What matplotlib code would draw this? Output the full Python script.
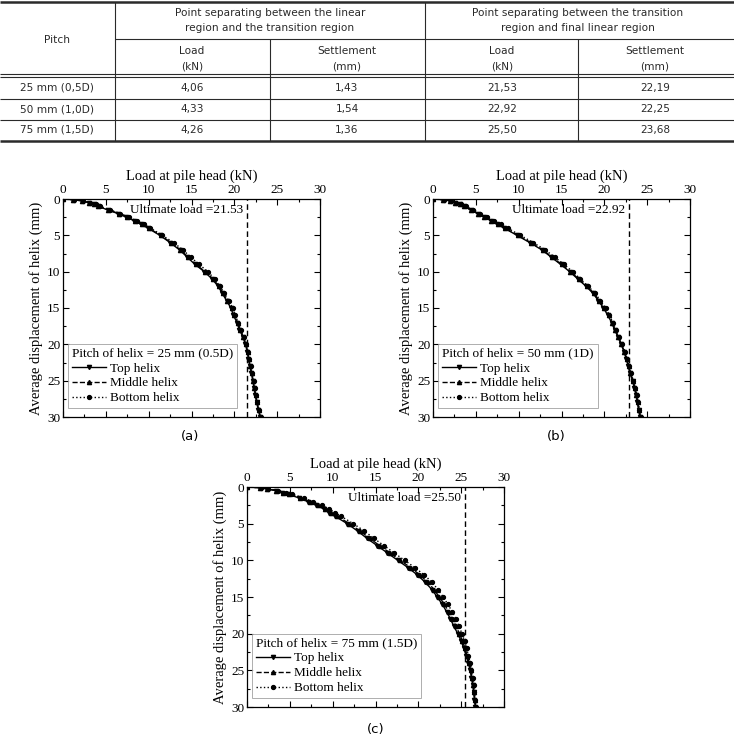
import matplotlib
matplotlib.use('Agg')
import matplotlib.pyplot as plt
from matplotlib.ticker import MultipleLocator

# table data
col_groups = ['Point separating between the linear\nregion and the transition region',
              'Point separating between the transition\nregion and final linear region']
sub_cols = ['Load\n(kN)', 'Settlement\n(mm)', 'Load\n(kN)', 'Settlement\n(mm)']
pitch_rows = ['25 mm (0,5D)', '50 mm (1,0D)', '75 mm (1,5D)']
table_vals = [['4,06', '1,43', '21,53', '22,19'],
              ['4,33', '1,54', '22,92', '22,25'],
              ['4,26', '1,36', '25,50', '23,68']]

# curve data: average displacement (mm) and load (kN) for each helix
disp = [0, 0.1, 0.25, 0.5, 0.75, 1, 1.5, 2, 2.5, 3, 3.5, 4, 5, 6, 7, 8, 9, 10, 11, 12,
        13, 14, 15, 16, 17, 18, 19, 20, 21, 22, 23, 24, 25, 26, 27, 28, 29, 30]

top_a = [0, 1.2, 2.2, 3.0, 3.6, 4.1, 5.2, 6.4, 7.4, 8.3, 9.1, 9.9, 11.3, 12.5, 13.6, 14.5, 15.4, 16.5, 17.4, 18.1,
         18.6, 19.1, 19.6, 19.9, 20.3, 20.6, 21.0, 21.3, 21.5, 21.65, 21.8, 22.0, 22.15, 22.3, 22.45, 22.6, 22.8, 23.0]
mid_a = [0, 1.2, 2.2, 3.0, 3.6, 4.1, 5.3, 6.5, 7.5, 8.4, 9.2, 10.0, 11.4, 12.6, 13.7, 14.6, 15.5, 16.6, 17.5, 18.2,
         18.7, 19.2, 19.7, 20.0, 20.4, 20.7, 21.05, 21.35, 21.55, 21.7, 21.85, 22.05, 22.2, 22.35, 22.5, 22.65, 22.85, 23.05]
bot_a = [0, 1.3, 2.3, 3.1, 3.8, 4.3, 5.5, 6.7, 7.7, 8.6, 9.4, 10.2, 11.6, 12.9, 14.0, 14.9, 15.9, 16.9, 17.7, 18.3,
         18.85, 19.35, 19.8, 20.1, 20.45, 20.75, 21.1, 21.4, 21.6, 21.75, 21.9, 22.1, 22.25, 22.4, 22.55, 22.7, 22.9, 23.1]

top_b = [0, 1.2, 2.0, 2.6, 3.1, 3.6, 4.4, 5.2, 6.0, 6.8, 7.5, 8.3, 9.8, 11.3, 12.7, 13.8, 14.9, 15.95, 16.9, 17.85,
         18.7, 19.3, 19.9, 20.4, 20.85, 21.2, 21.6, 21.95, 22.3, 22.55, 22.8, 23.0, 23.3, 23.5, 23.7, 23.85, 24.0, 24.15]
mid_b = [0, 1.2, 2.0, 2.6, 3.1, 3.6, 4.4, 5.2, 6.0, 6.8, 7.6, 8.4, 9.9, 11.4, 12.8, 13.9, 15.0, 16.05, 17.0, 17.95,
         18.8, 19.4, 20.0, 20.5, 20.9, 21.25, 21.65, 22.0, 22.35, 22.6, 22.85, 23.05, 23.35, 23.55, 23.75, 23.9, 24.05, 24.2]
bot_b = [0, 1.3, 2.1, 2.7, 3.3, 3.8, 4.7, 5.5, 6.3, 7.1, 7.9, 8.7, 10.2, 11.7, 13.1, 14.2, 15.3, 16.3, 17.2, 18.1,
         18.95, 19.55, 20.15, 20.6, 21.0, 21.35, 21.75, 22.1, 22.4, 22.65, 22.9, 23.1, 23.4, 23.6, 23.8, 23.95, 24.1, 24.25]

top_c = [0, 1.5, 2.3, 3.4, 4.1, 4.8, 6.1, 7.1, 8.1, 8.95, 9.6, 10.3, 11.7, 12.9, 14.0, 15.2, 16.4, 17.6, 18.8, 19.9,
         20.8, 21.6, 22.2, 22.8, 23.3, 23.75, 24.15, 24.6, 25.0, 25.3, 25.6, 25.85, 26.05, 26.2, 26.35, 26.45, 26.55, 26.65]
mid_c = [0, 1.5, 2.3, 3.4, 4.2, 4.9, 6.2, 7.3, 8.3, 9.15, 9.85, 10.55, 11.95, 13.2, 14.3, 15.5, 16.7, 17.9, 19.1, 20.2,
         21.1, 21.85, 22.45, 23.05, 23.55, 24.0, 24.4, 24.8, 25.15, 25.45, 25.7, 25.95, 26.1, 26.25, 26.4, 26.5, 26.6, 26.7]
bot_c = [0, 1.6, 2.5, 3.6, 4.5, 5.3, 6.6, 7.7, 8.7, 9.6, 10.3, 11.0, 12.4, 13.7, 14.8, 16.0, 17.2, 18.4, 19.6, 20.7,
         21.6, 22.3, 22.9, 23.45, 23.95, 24.4, 24.75, 25.1, 25.4, 25.65, 25.85, 26.05, 26.2, 26.35, 26.45, 26.55, 26.65, 26.75]

panels = [
    ('(a)', '25 mm (0.5D)', 21.53, top_a, mid_a, bot_a),
    ('(b)', '50 mm (1D)', 22.92, top_b, mid_b, bot_b),
    ('(c)', '75 mm (1.5D)', 25.50, top_c, mid_c, bot_c),
]

W, H = 734, 738
fig = plt.figure(figsize=(W / 100, H / 100), dpi=100)

# ---- table drawn in pixel coordinates ----
tax = fig.add_axes([0, 1 - 145 / H, 1, 145 / H])
tax.set_xlim(0, W)
tax.set_ylim(145, 0)
tax.axis('off')
tcol = '#2a2a2a'
tfont = dict(family='DejaVu Sans', fontsize=7.6, color=tcol, ha='center', va='center', linespacing=1.7)

tax.hlines(1.5, 0, W, color=tcol, lw=1.8)
tax.hlines(39, 115, W, color=tcol, lw=0.8)
tax.hlines([74, 77], 0, W, color=tcol, lw=0.8)
tax.hlines([98.5, 119.5], 0, W, color=tcol, lw=0.8)
tax.hlines(140.5, 0, W, color=tcol, lw=1.8)
tax.vlines([115, 425], 1.5, 140.5, color=tcol, lw=0.8)
tax.vlines([270, 578], 39, 140.5, color=tcol, lw=0.8)

tax.text(57, 40, 'Pitch', **tfont)
tax.text(270, 20.5, col_groups[0], **tfont)
tax.text(578, 20.5, col_groups[1], **tfont)
for cx, s in zip([192, 347, 502, 655], sub_cols):
    tax.text(cx, 58.5, s, **tfont)
for ry, name, vals in zip([88, 109, 130], pitch_rows, table_vals):
    tax.text(57, ry, name, **tfont)
    for cx, v in zip([192, 347, 502, 655], vals):
        tax.text(cx, ry, v, **tfont)

# ---- load-settlement charts ----
serif = 'Liberation Serif'
boxes = [(63, 199, 257, 218), (433, 199, 257, 218), (247, 487, 257, 220)]
tags = [(190, 437), (556, 437), (376, 729)]

for (tag, pitch, ult, top, mid, bot), (x0, y0, w, h), (tx, ty) in zip(panels, boxes, tags):
    ax = fig.add_axes([x0 / W, 1 - (y0 + h) / H, w / W, h / H])
    ax.plot(top, disp, '-', color='black', lw=1.0, marker='v', ms=3, label='Top helix')
    ax.plot(mid, disp, '--', color='black', lw=1.0, marker='^', ms=3, label='Middle helix')
    ax.plot(bot, disp, ':', color='black', lw=1.0, marker='o', ms=2.8, label='Bottom helix')
    ax.axvline(ult, color='black', ls=(0, (4, 2.5)), lw=1.0)
    ax.text(ult - 0.5, 1.45, f'Ultimate load ={ult:.2f}', ha='right', va='center',
            family=serif, fontsize=9.5)

    ax.set_xlim(0, 30)
    ax.set_ylim(30, 0)
    ax.xaxis.set_major_locator(MultipleLocator(5))
    ax.xaxis.set_minor_locator(MultipleLocator(2.5))
    ax.yaxis.set_major_locator(MultipleLocator(5))
    ax.yaxis.set_minor_locator(MultipleLocator(2.5))
    ax.xaxis.tick_top()
    ax.xaxis.set_label_position('top')
    ax.tick_params(which='both', direction='in', top=True, bottom=True, left=True, right=True,
                   labeltop=True, labelbottom=False, width=0.8)
    ax.tick_params(which='major', length=4, labelsize=9.5, pad=2)
    ax.tick_params(which='minor', length=2)
    for lab in ax.get_xticklabels() + ax.get_yticklabels():
        lab.set_family(serif)
    for sp in ax.spines.values():
        sp.set_linewidth(0.9)
    ax.set_xlabel('Load at pile head (kN)', family=serif, fontsize=10.5, labelpad=3)
    ax.set_ylabel('Average displacement of helix (mm)', family=serif, fontsize=10.5, labelpad=3)

    leg = ax.legend(loc='lower left', bbox_to_anchor=(0.02, 0.04), title=f'Pitch of helix = {pitch}',
                    prop={'family': serif, 'size': 9.5}, frameon=True, fancybox=False,
                    handlelength=2.6, handletextpad=0.3, labelspacing=0.2, borderpad=0.3,
                    borderaxespad=0)
    leg.get_title().set_family(serif)
    leg.get_title().set_fontsize(9.5)
    leg._legend_box.align = 'left'
    leg.get_frame().set_edgecolor('#999999')
    leg.get_frame().set_linewidth(0.7)

    fig.text(tx / W, 1 - ty / H, tag, ha='center', va='center', family='DejaVu Sans', fontsize=9.5)

fig.savefig('out.png', dpi=100)
